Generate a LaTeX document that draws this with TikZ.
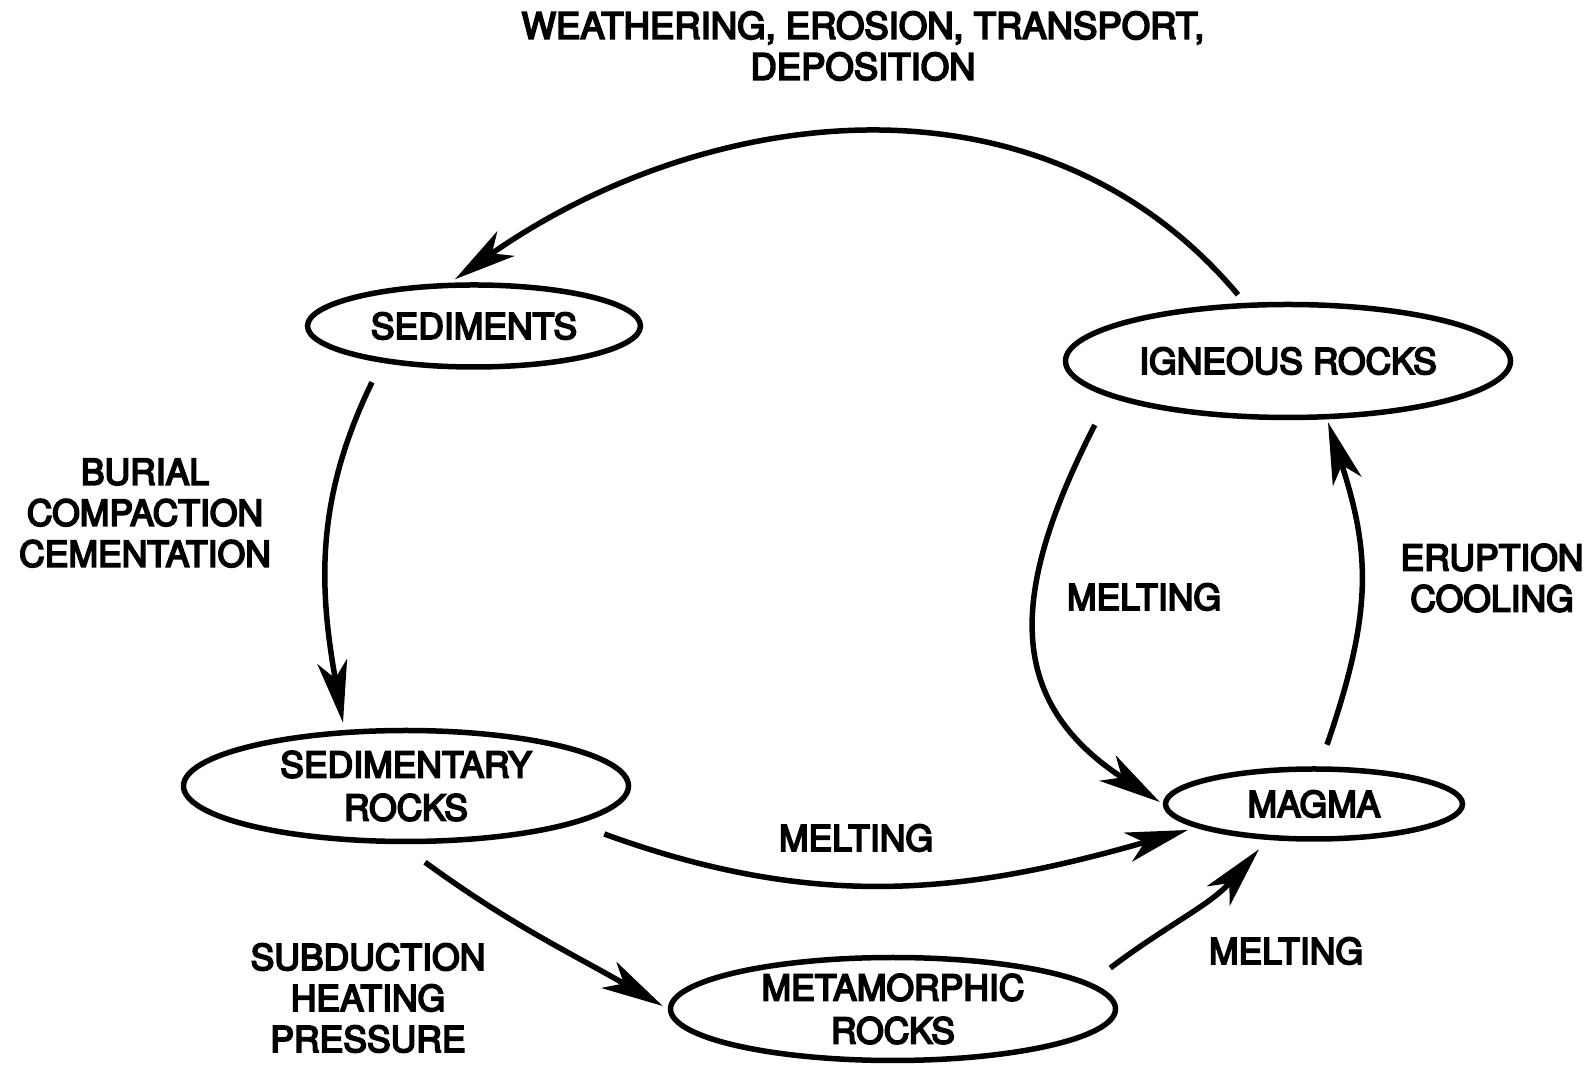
\documentclass[tikz,border=0pt]{standalone}
\usepackage{fontspec}
\setmainfont{TeX Gyre Heros}[FakeBold=5]
\usetikzlibrary{shapes.geometric, arrows.meta}

\begin{document}
\begin{tikzpicture}[x=1pt, y=1pt,
  rock/.style={ellipse, draw, line width=5.5pt, inner sep=0pt, align=center,
    font=\fontsize{35.5}{43}\selectfont},
  lbl/.style={align=center, font=\fontsize{35.5}{41}\selectfont},
  arrow/.style={-{Stealth[length=62pt, width=30pt, inset=17pt]}, line width=5.5pt}]
  \useasboundingbox (0,0) rectangle (1594,1067);
  % the five rock types
  \node[rock, minimum width=333pt, minimum height=82pt] (sed) at (474,741) {SEDIMENTS};
  \node[rock, minimum width=445pt, minimum height=113pt] (ign) at (1288,706) {IGNEOUS ROCKS};
  \node[rock, minimum width=445pt, minimum height=111pt] (sedr) at (406,281) {SEDIMENTARY\\ROCKS};
  \node[rock, minimum width=297pt, minimum height=70pt] (mag) at (1314,263) {MAGMA};
  \node[rock, minimum width=445pt, minimum height=103pt] (met) at (893,58) {METAMORPHIC\\ROCKS};
  % processes
  \node[lbl, font=\fontsize{36.5}{41}\selectfont] (weath) at (863,1021) {WEATHERING, EROSION, TRANSPORT,\\DEPOSITION};
  \node[lbl] (burial) at (145,554) {BURIAL\\COMPACTION\\CEMENTATION};
  \node[lbl] (meltign) at (1144,470) {MELTING};
  \node[lbl] (erupt) at (1492,489) {ERUPTION\\COOLING};
  \node[lbl] (meltsed) at (856,229) {MELTING};
  \node[lbl] (subduct) at (368,69) {SUBDUCTION\\HEATING\\PRESSURE};
  \node[lbl] (meltmet) at (1286,116) {MELTING};
  % cycle
  \draw[arrow] ([shift={(-50,7)}]ign.north) to[out=130, in=35] ([shift={(-19,3)}]sed.north);
  \draw[arrow] ([shift={(-102,-12.5)}]sed.south) to[out=244, in=100] ([shift={(-63,5)}]sedr.north);
  \draw[arrow] ([shift={(-27,-48)}]sedr.east) to[out=-20, in=196] ([shift={(25,-26)}]mag.west);
  \draw[arrow] ([shift={(19,-18)}]sedr.south) to[out=-36, in=150] ([shift={(-5,3)}]met.west);
  \draw[arrow] ([shift={(-8,41)}]met.east) to[out=37, in=229] ([shift={(-55,-7.5)}]mag.south);
  \draw[arrow] ([shift={(32,-64)}]ign.west) to[out=243, in=147, looseness=1.25] ([shift={(-3,2)}]mag.west);
  \draw[arrow] ([shift={(13,21.5)}]mag.north) to[out=71, in=-72, looseness=1.1] ([shift={(40,-2)}]ign.south);
\end{tikzpicture}
\end{document}
